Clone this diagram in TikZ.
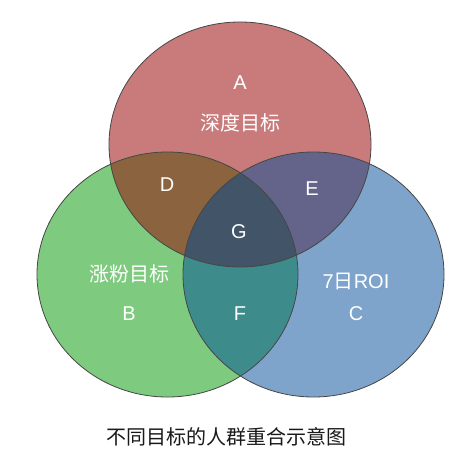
\documentclass[tikz,border=0pt]{standalone}
\usepackage{fontspec}
\setmainfont{Liberation Sans}
\newfontfamily\cjk{Noto Sans CJK SC}
\definecolor{vennA}{RGB}{201,123,123}
\definecolor{vennB}{RGB}{126,202,126}
\definecolor{vennC}{RGB}{126,164,203}
\definecolor{vennD}{RGB}{139,99,62}
\definecolor{vennE}{RGB}{100,100,138}
\definecolor{vennF}{RGB}{62,139,139}
\definecolor{vennG}{RGB}{66,84,104}
\definecolor{vennline}{RGB}{70,70,70}
\newcommand{\ellA}{(240,144.5) ellipse [x radius=131pt, y radius=122.5pt]}
\newcommand{\ellB}{(167.5,274.5) ellipse [x radius=130.5pt, y radius=122.5pt]}
\newcommand{\ellC}{(313.5,274.5) ellipse [x radius=130.5pt, y radius=122.5pt]}

\begin{document}
\begin{tikzpicture}[x=1pt,y=-1pt,
    lab/.style={text=white,font=\fontsize{20}{24}\selectfont,inner sep=0pt},
    captext/.style={text=black!90,font=\fontsize{20}{24}\selectfont,inner sep=0pt}]
        \useasboundingbox (0,0) rectangle (473,462);
        \fill[white] (0,0) rectangle (473,462);
        \fill[vennA] \ellA; \fill[vennB] \ellB; \fill[vennC] \ellC;
        \begin{scope} \clip \ellA; \fill[vennD] \ellB; \fill[vennE] \ellC; \end{scope}
        \begin{scope} \clip \ellB; \fill[vennF] \ellC; \end{scope}
        \begin{scope} \clip \ellA; \clip \ellB; \fill[vennG] \ellC; \end{scope}
        \draw[vennline,line width=0.8pt] \ellA \ellB \ellC;
        \node[lab] (labA) at (240,82.7) {A};
        \node[lab] (txtA) at (240,123) {\cjk 深度目标};
        \node[lab] (labD) at (167,185) {D};
        \node[lab] (labE) at (312,189) {E};
        \node[lab] (labG) at (239,232) {G};
        \node[lab] (txtB) at (129,274) {\cjk 涨粉目标};
        \node[lab] (labB) at (129,314) {B};
        \node[lab] (labF) at (240,314) {F};
        \node[lab] (txtC) at (356,281) {7{\cjk 日}ROI};
        \node[lab] (labC) at (356,314) {C};
        \node[captext] (title) at (226,437) {\cjk 不同目标的人群重合示意图};
      \end{tikzpicture}
\end{document}
